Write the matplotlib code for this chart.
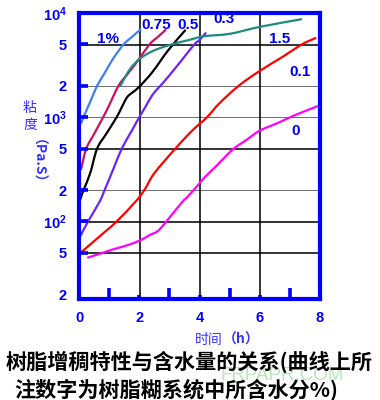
import numpy as np
import matplotlib
matplotlib.use('Agg')
import matplotlib.pyplot as plt
from matplotlib.ticker import FixedLocator, FixedFormatter
from matplotlib.patches import Rectangle
from matplotlib.path import Path
from matplotlib.patches import PathPatch

plt.rcParams['mathtext.fontset'] = 'custom'
plt.rcParams['mathtext.rm'] = 'Liberation Sans'
plt.rcParams['mathtext.bf'] = 'Liberation Sans:bold'

CJK = ['Noto Sans CJK SC', 'DejaVu Sans']

# ---------------- data (time h, viscosity Pa.S) ----------------
t_w100 = [0.08, 0.18, 0.4, 0.6, 0.85, 1.14, 1.48, 1.75, 2.04]
v_w100 = [887, 1050, 1470, 2000, 2650, 3680, 5000, 5870, 6950]

t_w075 = [0.07, 0.24, 0.5, 0.8, 0.97, 1.31, 1.6, 1.93, 2.34, 2.6, 2.87]
v_w075 = [318, 500, 690, 1000, 1250, 2000, 2570, 3410, 5000, 5840, 6860]

t_w050 = [0.03, 0.15, 0.37, 0.6, 0.9, 1.25, 1.42, 1.6, 1.8, 2.0, 2.44, 2.95, 3.52]
v_w050 = [160, 200, 290, 500, 690, 1000, 1250, 1560, 1750, 1960, 2720, 4350, 6800]

t_w030 = [0.05, 0.3, 0.68, 0.85, 1.15, 1.42, 1.75, 2.0, 2.2, 2.44, 2.7, 2.95, 3.4, 3.83, 4.0, 4.2]
v_w030 = [73, 100, 154, 200, 324, 500, 740, 1000, 1250, 1640, 2000, 2420, 3500, 5000, 5500, 6400]

t_w150 = [1.37, 1.7, 2.04, 2.5, 3.08, 3.66, 4.15, 5.0, 6.0, 7.38]
v_w150 = [2000, 2910, 3680, 4380, 5000, 5520, 5980, 6310, 7360, 8710]

t_w010 = [0.05, 0.85, 1.25, 1.87, 2.17, 2.5, 3.2, 3.75, 4.25, 4.65, 5.3, 6.0, 6.8, 7.4, 7.85]
v_w010 = [50, 79, 100, 154, 200, 290, 500, 740, 1000, 1350, 2000, 2780, 3860, 5000, 5740]

t_w000 = [0.3, 0.7, 1.14, 1.6, 2.04, 2.35, 2.62, 2.9, 3.43, 3.6, 4.0, 4.15, 4.6, 5.1, 5.55, 6.0, 6.64, 7.14, 8.0]
v_w000 = [45, 49, 54, 59, 66, 74, 81, 100, 154, 172, 232, 261, 350, 489, 603, 743, 890, 1038, 1300]

series_colors = ['#3f7ff2', '#cc1060', '#000000', '#6a22ff', '#1f8a80', '#ff0000', '#ff00ff']

label_texts = ['1%', '0.75', '0.5', '0.3', '1.5', '0.1', '0']
label_x = [0.95, 2.55, 3.62, 4.82, 6.67, 7.33, 7.19]
label_y = [5610, 7590, 7590, 8710, 5610, 2720, 740]

ytick_vals = [20, 50, 100, 200, 500, 1000, 2000, 5000, 10000]
ytick_labels = ['2', '5', r'$\mathbf{10^{2}}$', '2', '5', r'$\mathbf{10^{3}}$', '2', '5', r'$\mathbf{10^{4}}$']
ygrid_vals = [50, 100, 200, 500, 1000, 2000, 5000]
xtick_vals = [0, 2, 4, 6, 8]
xtick_labels = ['0', '2', '4', '6', '8']
xgrid_vals = [2, 4, 6]
xminor_vals = [1, 3, 5, 7]

caption1 = '树脂增稠特性与含水量的关系(曲线上所'
caption2 = '注数字为树脂糊系统中所含水分%)'

X0, X1 = 0, 8
Y0, Y1 = 18, 10000


def smooth_path(tt, vv):
    """Bezier path through the read points (Catmull-Rom in log-y space)."""
    x = np.asarray(tt, float)
    y = np.log10(np.asarray(vv, float))
    n = len(x)
    verts = [(x[0], 10 ** y[0])]
    codes = [Path.MOVETO]
    for i in range(n - 1):
        x0, y0 = (x[i - 1], y[i - 1]) if i > 0 else (x[i], y[i])
        x3, y3 = (x[i + 2], y[i + 2]) if i + 2 < n else (x[i + 1], y[i + 1])
        c1 = (x[i] + (x[i + 1] - x0) / 6, y[i] + (y[i + 1] - y0) / 6)
        c2 = (x[i + 1] - (x3 - x[i]) / 6, y[i + 1] - (y3 - y[i]) / 6)
        verts += [(c1[0], 10 ** c1[1]), (c2[0], 10 ** c2[1]), (x[i + 1], 10 ** y[i + 1])]
        codes += [Path.CURVE4] * 3
    return Path(verts, codes)


# ---------------- figure ----------------
BLUE = '#0000ff'
fig = plt.figure(figsize=(3.8, 4.0), dpi=100)
ax = fig.add_axes([0.208, 0.2525, 0.634, 0.715])
ax.set_yscale('log')
ax.set_xlim(X0, X1)
ax.set_ylim(Y0, Y1)

# grid lines: thin filled bands one line wide (data coordinates)
for gv in ygrid_vals:
    ax.add_patch(Rectangle((X0, gv / 1.006), X1 - X0, gv * 1.006 - gv / 1.006,
                           facecolor='#000000', edgecolor='#000000', lw=0.4, zorder=2))
for gx in xgrid_vals:
    ax.add_patch(Rectangle((gx - 0.012, Y0), 0.024, Y1 - Y0,
                           facecolor='#000000', edgecolor='#000000', lw=0.4, zorder=2))

series = [(t_w100, v_w100), (t_w075, v_w075), (t_w050, v_w050), (t_w030, v_w030),
          (t_w150, v_w150), (t_w010, v_w010), (t_w000, v_w000)]
for (tt, vv), c in zip(series, series_colors):
    ax.add_patch(PathPatch(smooth_path(tt, vv), facecolor='none', edgecolor=c, lw=1.6,
                           capstyle='round', joinstyle='round', zorder=3))

# inward tick marks on the left spine and bottom spine
ax.hlines(ygrid_vals, X0, 0.3, colors=BLUE, lw=2.6, zorder=4)
ax.vlines(xminor_vals, Y0, 23, colors=BLUE, lw=2.6, zorder=4)
ax.vlines(xgrid_vals, Y0, 19.8, colors=BLUE, lw=2.6, zorder=4)

for s, x, y in zip(label_texts, label_x, label_y):
    ax.text(x, y, s, ha='center', va='center', fontsize=11, fontweight='bold',
            family='Liberation Sans', color='#0000ee', zorder=4)

for sp in ax.spines.values():
    sp.set_color(BLUE)
    sp.set_linewidth(3)
    sp.set_zorder(5)

ax.yaxis.set_major_locator(FixedLocator(ytick_vals))
ax.yaxis.set_major_formatter(FixedFormatter(ytick_labels))
ax.yaxis.set_minor_locator(FixedLocator([]))
ax.xaxis.set_major_locator(FixedLocator(xtick_vals))
ax.xaxis.set_major_formatter(FixedFormatter(xtick_labels))
ax.xaxis.set_minor_locator(FixedLocator([]))

ax.tick_params(axis='y', which='major', length=0, pad=9, labelsize=10.5, labelcolor=BLUE)
ax.tick_params(axis='x', which='major', length=0, pad=9, labelsize=10.5, labelcolor=BLUE)
for lab in ax.get_xticklabels() + ax.get_yticklabels():
    lab.set_fontweight('bold')
    lab.set_family('Liberation Sans')

# y label
ycol = '#3333ff'
fig.text(30/380, 1-108/400, '粘', ha='center', va='center', fontsize=10, family=CJK, color=ycol)
fig.text(30/380, 1-125/400, '度', ha='center', va='center', fontsize=10, family=CJK, color=ycol)
fig.text(30/380, 1-168/400, '（Pa.S）', ha='center', va='center', fontsize=10, family=CJK,
         fontweight='bold', rotation=270, color=ycol)

# x label
fig.text(209/380, 1-340/400, '时间', ha='center', va='center', fontsize=10, family=CJK, color=ycol)
fig.text(241/380, 1-340/400, '（h）', ha='center', va='center', fontsize=10, family=CJK,
         fontweight='bold', color=ycol)

# watermark
fig.text(282/380, 1-376/400, 'FRPAPR.COM', ha='center', va='center', fontsize=13.5,
         family='Liberation Sans', color='#b8e6b8', zorder=0)

# caption
fig.text(6/380, 1-362/400, caption1, ha='left', va='center', fontsize=15.2, family=CJK,
         fontweight='bold', color='black')
fig.text(14/380, 1-390/400, caption2, ha='left', va='center', fontsize=15.2, family=CJK,
         fontweight='bold', color='black')

fig.savefig('out.png', dpi=100)
